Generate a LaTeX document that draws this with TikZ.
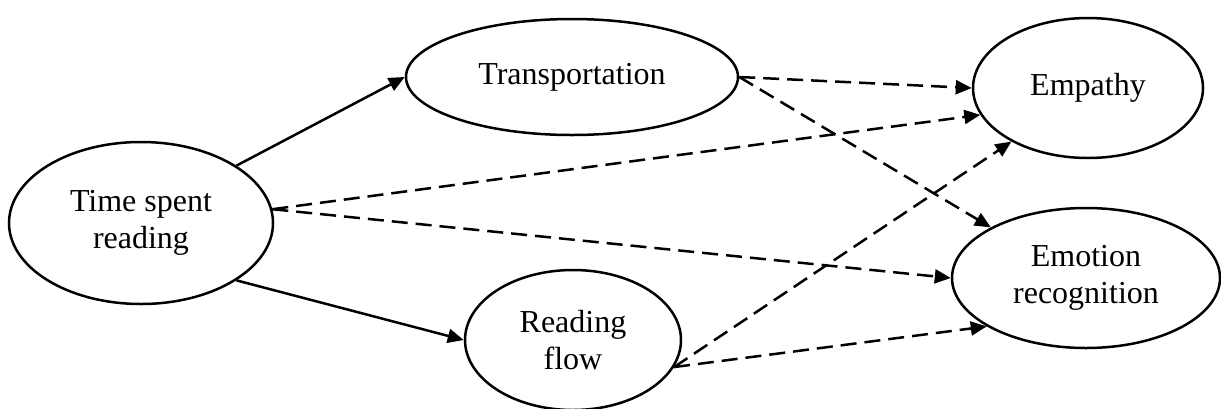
\documentclass[tikz,border=0pt]{standalone}
\usepackage{fontspec}
\setmainfont{Liberation Serif}
\usetikzlibrary{shapes.geometric,arrows.meta}

\begin{document}
\begin{tikzpicture}[x=0.5pt,y=-0.5pt,
   construct/.style={draw,ellipse,line width=1.25pt,inner sep=0pt,align=center,
      font=\fontsize{16}{18.4}\selectfont},
   direct/.style={line width=1.25pt,-{Triangle[length=8pt,width=7pt]}},
   indirect/.style={direct,dash pattern=on 8pt off 4pt}]

   \useasboundingbox (0,0) rectangle (1221,408);

   \node[construct,minimum width=132pt,minimum height=81pt] (time) at (141,223) {Time spent\\reading};
   \node[construct,minimum width=166pt,minimum height=58pt] (trans) at (572,77) {Transportation};
   \node[construct,minimum width=108pt,minimum height=70pt] (flow) at (573,340) {Reading\\flow};
   \node[construct,minimum width=115pt,minimum height=70pt] (emp) at (1088,88) {Empathy};
   \node[construct,minimum width=134pt,minimum height=70pt] (emo) at (1086,278) {Emotion\\recognition};

   \draw[direct] (time.31) -- (trans.west);
   \draw[direct] (time.-31) -- (flow.west);

   \draw[indirect] (time.6) -- (emp.194);
   \draw[indirect] (time.6) -- (emo.west);
   \draw[indirect] (trans.east) -- (emp.west);
   \draw[indirect] (trans.east) -- (emo.152);
   \draw[indirect] (flow.-15) -- (emp.215);
   \draw[indirect] (flow.-15) -- (emo.206);

\end{tikzpicture}
\end{document}
